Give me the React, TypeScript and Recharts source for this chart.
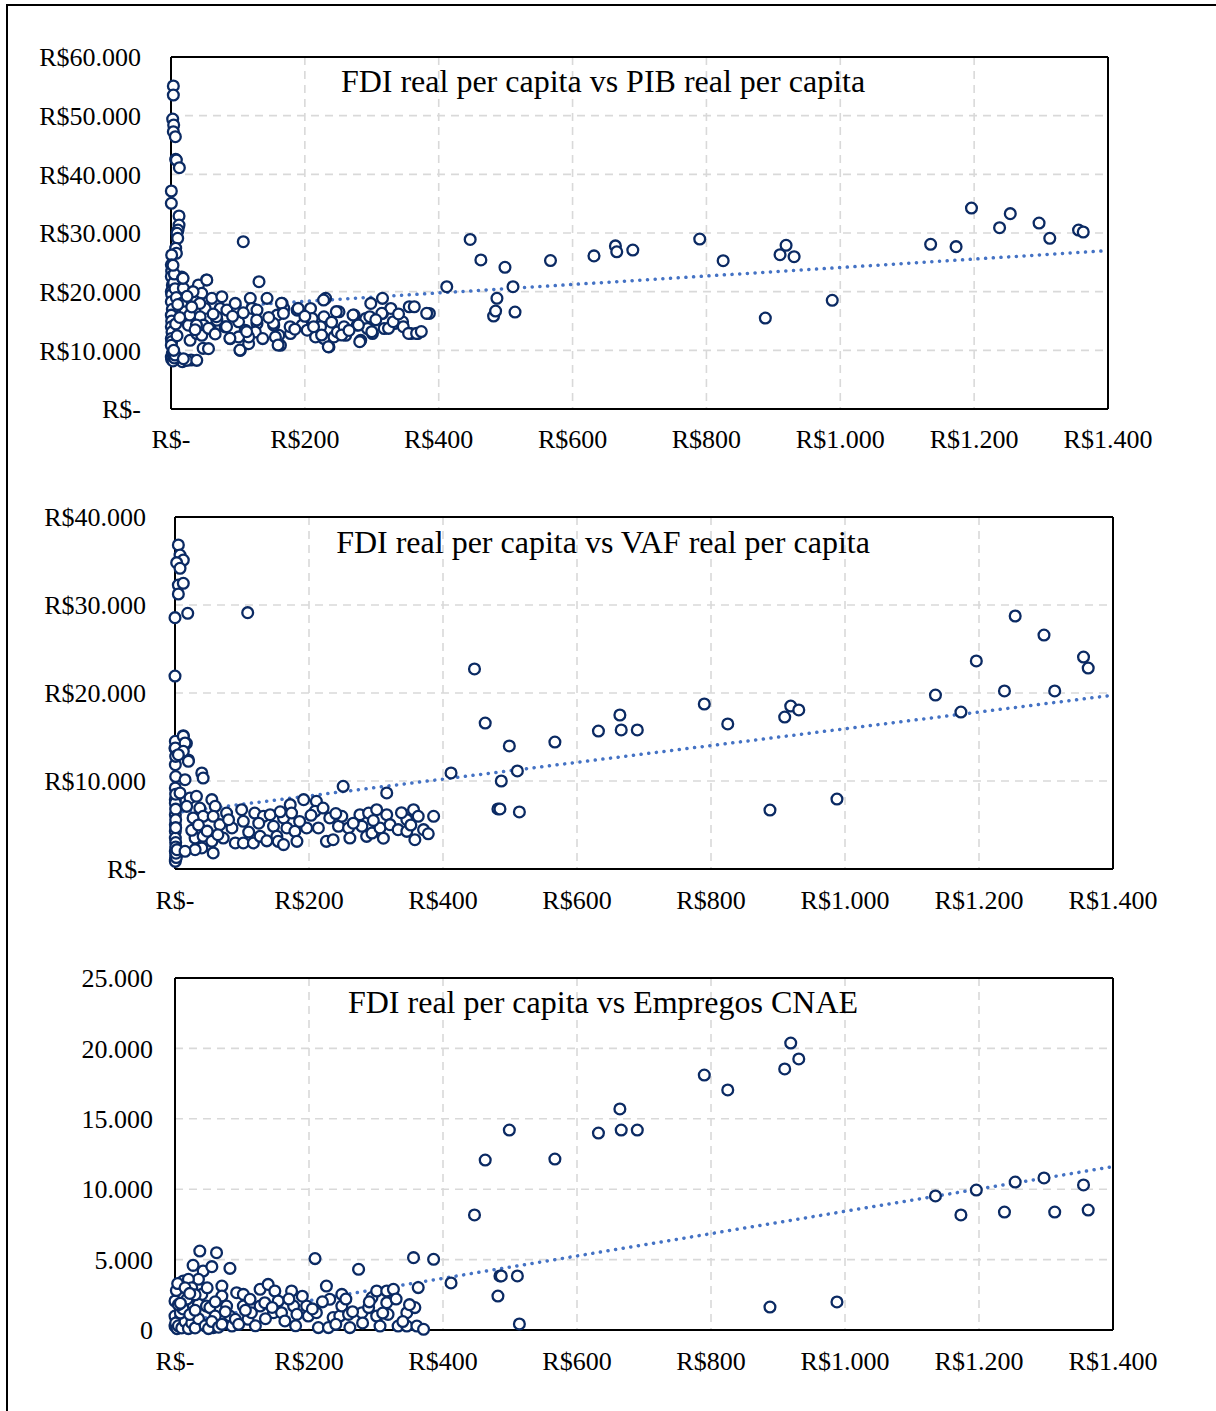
import React from 'react';
import { ScatterChart, Scatter, XAxis, YAxis, CartesianGrid, ReferenceLine } from 'recharts';

// ---------- DATA ----------
// x ticks (FDI real per capita)
const xTicks = [0, 200, 400, 600, 800, 1000, 1200, 1400];
const pibTicks = [0, 10000, 20000, 30000, 40000, 50000, 60000];
const vafTicks = [0, 10000, 20000, 30000, 40000];
const empTicks = [0, 5000, 10000, 15000, 20000, 25000];

const titles = [
  'FDI real per capita vs PIB real per capita',
  'FDI real per capita vs VAF real per capita',
  'FDI real per capita vs Empregos CNAE',
];

// municipalities with large FDI (shared x across the three panels)
const fdi = [412, 447, 463, 482, 485, 487, 499, 511, 514, 567, 632, 664, 666, 690, 790, 825, 888, 910, 919, 931, 988, 1135, 1173, 1196, 1238, 1254, 1297, 1313, 1356, 1363];
const pib = [20850, 28900, 25400, 15850, 16700, 18870, 24150, 20850, 16530, 25300, 26100, 27800, 26800, 27100, 28970, 25280, 15500, 26300, 27900, 25960, 18530, 28070, 27670, 34260, 30900, 33300, 31700, 29100, 30500, 30170];
const vaf = [10910, 22730, 16590, 6820, 6820, 10000, 13980, 11140, 6480, 14430, 15680, 17500, 15800, 15800, 18750, 16480, 6700, 17270, 18520, 18070, 7950, 19770, 17840, 23640, 20230, 28750, 26590, 20230, 24090, 22840];
const emp = [3340, 8170, 12070, 2410, 3840, 3840, 14200, 3840, 430, 12140, 13990, 15700, 14200, 14200, 18110, 17050, 1630, 18540, 20380, 19250, 1990, 9520, 8170, 9940, 8380, 10510, 10800, 8380, 10300, 8520];

// dense cloud of small-FDI municipalities, [FDI, value]
const pibCloud: [number, number][] = [
  [3.5, 55060], [3.5, 53520], [2.5, 49430], [4, 48410], [3.5, 47270], [6.5, 46410], [7, 42560], [8, 42440], [12.5, 41130],
  [0.5, 37160], [0.5, 35060], [12, 32900], [12, 31360], [10.5, 30510], [9, 29950], [10, 29100], [7, 27400], [8, 26540], [1, 26250],
  [108, 28520], [131.5, 21700], [53, 21990], [16, 22500], [17, 8060], [30, 8350], [48, 10340],
  [0.5, 24570], [1, 23500], [0.5, 22570], [2, 21140], [0.5, 20000], [1, 19500], [0.5, 18290], [2, 17000], [0.5, 16000], [1, 15000],
  [0.5, 14000], [1.5, 13140], [0.5, 12000], [1, 11500], [0.5, 10860], [2, 9500], [0.5, 8860], [1, 8500], [3, 8200], [5, 8700],
  [6, 9200], [4, 10000], [4, 21500], [5, 23000], [3, 24500], [6, 20500], [8, 19000], [7, 14500], [9, 12500],
  [17.5, 22290], [18.5, 20570], [16, 18000], [21, 16570], [26, 14290], [28.5, 11710], [23.5, 8290], [38.5, 8290], [18.5, 8570],
  [33.5, 20000], [41, 21140], [46, 19710], [53.5, 22000], [61, 18860], [51, 17140], [43.5, 15710], [48.5, 14290], [38.5, 12860],
  [46, 12570], [56, 10290], [58.5, 13710], [76, 19140], [73.5, 17140], [83.5, 16860], [81, 14000], [88.5, 12000], [68.5, 15140],
  [101, 14860], [96, 18000], [103.5, 10000], [116, 11140], [118.5, 18860], [121, 17140], [111, 13430], [128.5, 14570], [128.5, 16860],
  [143.5, 18860], [126, 13140], [116, 12290], [101, 12290], [153.5, 14290], [158.5, 16000], [166, 18000], [168.5, 17140], [161, 12570],
  [163.5, 10860], [156, 12290], [178.5, 12860], [188.5, 16860], [196, 14290], [203.5, 13430], [208.5, 17140], [211, 15430], [216, 12290],
  [228.5, 15710], [231, 18860], [223.5, 14000], [228.5, 12000], [236, 10570], [243.5, 12290], [248.5, 13140], [251, 16570], [258.5, 14000],
  [261, 12570], [273.5, 16000], [283.5, 11710], [278.5, 14290], [291, 15430], [293.5, 13710], [301, 12860], [298.5, 18000], [316, 18860],
  [316, 16290], [318.5, 13710], [328.5, 17140], [333.5, 14570], [346, 14860], [356, 17430], [363.5, 17430], [358.5, 12860], [368.5, 12860],
  [386, 16290],
  [18, 22270], [33, 19990], [43, 18000], [28, 16020], [38, 14310], [56, 13750], [68, 15730], [83, 14030], [88, 12040], [103, 10050],
  [113, 13180], [128, 15170], [153, 14600], [160, 10910], [165, 18010], [168, 16300], [178, 14030], [190, 17150], [213, 14030], [225, 12610],
  [228, 18570], [235, 10620], [247, 16590], [255, 12610], [272, 16020], [280, 14310], [282, 11470], [297, 15730], [300, 13180], [315, 16300],
  [325, 13750], [332, 14880], [347, 14030], [355, 12890], [367, 12890], [382, 16300],
  [10, 17800], [13, 15600], [24, 19200], [31, 17400], [36, 13500], [63, 16200], [66, 12800], [92, 15800], [108, 16400], [137, 12000],
  [146, 15600], [185, 13600], [200, 15800], [240, 14800], [266, 13400], [306, 15200], [340, 16200], [374, 13200],
];

const vafCloud: [number, number][] = [
  [5, 36820], [7.5, 35680], [12.4, 35110], [2.5, 34810], [7.5, 34170], [5, 32270], [12.4, 32470], [5, 31250], [0, 28560], [19, 29060],
  [108.5, 29130], [0, 21930], [12.4, 15150], [2.5, 14280], [17, 14280], [0, 13710], [20, 12390],
  [0.5, 14510], [0.5, 13750], [0.5, 11860], [0.5, 9210], [0.5, 7880], [0.5, 7500], [0.5, 6170], [0.5, 5040], [0.5, 4280], [0.5, 3520],
  [0.5, 2010], [0.5, 1060], [0.5, 870], [1, 12800], [1, 10500], [1, 8500], [1, 6800], [1, 5600], [1, 4700], [1, 3000], [1, 2500],
  [1, 1500], [2, 1300], [1.5, 1800], [3, 2200],
  [12.4, 15080], [15, 14320], [20, 12240], [12.4, 13370], [5, 12990], [40, 10910], [42, 10340], [15, 10150], [7.5, 8640], [22.4, 8070],
  [32, 8260], [17.4, 7120], [37, 6930], [55, 7880], [60, 7120], [42, 5990], [27, 5800], [57, 5990], [30, 3520], [42, 3710],
  [55, 3140], [40, 2390], [30, 2200], [15, 2010], [57, 1820], [72, 3520], [67, 5040], [77, 6360], [85, 4660], [90, 2960],
  [99.5, 6740], [102, 5420], [102, 2960], [117, 2960], [119, 6360], [127, 3710], [132, 5990], [142, 6170], [147, 4850], [152, 3710],
  [154, 3140], [162, 2770], [162, 5800], [172, 7310], [174, 6360], [167, 4660], [179, 4280], [182, 3140], [192, 7880], [196.5, 4660],
  [211, 7690], [209, 6550], [214, 4660], [221, 6930], [226, 3140], [231, 5800], [236, 3330], [244, 4850], [249, 5990], [251, 9390],
  [259, 4660], [261, 3520], [276, 6170], [279, 4850], [286, 3710], [289, 6360], [294, 4090], [301, 6740], [306, 4660], [316, 8640],
  [316, 6170], [321, 5040], [333, 4470], [346, 5610], [346, 4280], [356, 6740], [358, 3330], [363, 5990], [371, 4470], [386, 5990],
  [25, 4400], [35, 5000], [48, 4300], [64, 3900], [80, 5600], [110, 4200], [125, 5200], [137, 3200], [157, 6500], [186, 5400],
  [203, 6100], [240, 6300], [266, 5200], [296, 5500], [311, 3500], [338, 6400], [352, 5000], [378, 4000],
];

const empCloud: [number, number][] = [
  [37, 5610], [62, 5490], [27, 4590], [42, 4190], [55, 4500], [82, 4380], [35, 3600], [12.4, 3480], [20, 3600], [70, 3120],
  [40, 2530], [12.4, 2890], [7.5, 2410], [0, 2060], [0, 990], [0, 280], [7.5, 760], [17.4, 400], [27, 280], [40, 400],
  [27, 1820], [35, 1820], [47, 1700], [52, 1590], [70, 2410], [60, 990], [57, 170], [77, 1700], [82, 990], [85, 280],
  [90, 760], [92, 2650], [102, 2530], [102, 1700], [109, 760], [112, 2180], [114, 1230], [127, 2890], [127, 1700], [134, 1940],
  [139, 3240], [149, 2770], [154, 2060], [147, 1230], [159, 1230], [164, 640], [174, 2770], [177, 1700], [182, 1110], [196.5, 1700],
  [199, 990], [209, 5070], [211, 1230], [214, 170], [226, 3120], [229, 170], [231, 2180], [236, 880], [246, 990], [249, 1700],
  [249, 2530], [259, 1110], [261, 170], [274, 4310], [279, 1230], [289, 1590], [294, 2300], [301, 2770], [301, 990], [306, 280],
  [316, 1940], [316, 2770], [318, 1110], [326, 2890], [333, 280], [346, 280], [346, 1230], [358, 1590], [356, 5140], [361, 280],
  [363, 3010], [371, 50], [386, 5020],
  [1, 500], [3, 100], [5, 300], [10, 150], [15, 600], [20, 100], [25, 500], [30, 150], [35, 800], [45, 300],
  [50, 100], [55, 600], [65, 200], [70, 400], [8, 1200], [12, 1500], [22, 1100], [30, 1400], [5, 1800], [18, 2200],
  [25, 3000], [30, 2500], [2, 2800], [60, 2000], [75, 1300], [95, 400], [105, 1400], [120, 300], [135, 800], [145, 1600],
  [170, 2200], [180, 300], [190, 2400], [205, 1500], [220, 2000], [240, 400], [255, 2200], [265, 1300], [280, 500], [290, 2000],
  [310, 1200], [330, 2200], [340, 600], [350, 1800],
  [4, 3300], [15, 3000], [22, 2600], [48, 3000], [8, 1900],
];

// dotted linear trend lines, value at FDI = 0 and FDI = 1400
const pibTrend = [16900, 27000];
const vafTrend = [6400, 19750];
const empTrend = [500, 11600];

// ---------- helpers ----------
const FONT = '"Liberation Serif", "Times New Roman", Times, serif';
const NAVY = '#0b2a63';
const TREND = '#4472C4';
const GRID = '#d9d9d9';

const thousands = (v: number) => String(v).replace(/\B(?=(\d{3})+(?!\d))/g, '.');
const money = (v: number) => (v === 0 ? 'R$-' : 'R$' + thousands(v));
const plain = (v: number) => thousands(v);

const build = (ys: number[], cloud: [number, number][]) => [
  ...cloud.map(([x, y]) => ({ x, y })),
  ...fdi.map((x, i) => ({ x, y: ys[i] })),
];

const Dot = (p: any) =>
  p.cx == null || p.cy == null ? null : (
    <circle cx={p.cx} cy={p.cy} r={5.4} fill="#ffffff" stroke={NAVY} strokeWidth={2.3} />
  );

type PanelProps = {
  top: number;
  height: number;
  plotTop: number;
  plotBottom: number;
  plotLeft: number;
  plotRight: number;
  yMax: number;
  yTicks: number[];
  yFmt: (v: number) => string;
  yTickMargin: number;
  xTickMargin: number;
  data: { x: number; y: number }[];
  trend: number[];
};

function Panel(p: PanelProps) {
  const yAxisW = 60;
  const xAxisH = 40;
  const margin = {
    top: p.plotTop - p.top,
    left: p.plotLeft - yAxisW,
    right: 1216 - p.plotRight,
    bottom: p.top + p.height - p.plotBottom - xAxisH,
  };
  const tickStyle = { fill: '#000', fontSize: 26, fontFamily: FONT };
  return (
    <div style={{ position: 'absolute', left: 0, top: p.top, width: 1216, height: p.height }}>
      <ScatterChart width={1216} height={p.height} margin={margin}>
        <CartesianGrid stroke={GRID} strokeWidth={1.6} strokeDasharray="8 6" />
        <XAxis
          type="number"
          dataKey="x"
          domain={[0, 1400]}
          ticks={xTicks}
          interval={0}
          tickFormatter={money}
          tick={tickStyle}
          tickLine={false}
          tickSize={0}
          tickMargin={p.xTickMargin}
          height={xAxisH}
          axisLine={{ stroke: '#000', strokeWidth: 2 }}
        />
        <YAxis
          type="number"
          dataKey="y"
          domain={[0, p.yMax]}
          ticks={p.yTicks}
          interval={0}
          tickFormatter={p.yFmt}
          tick={tickStyle}
          tickLine={false}
          tickSize={0}
          tickMargin={p.yTickMargin}
          width={yAxisW}
          axisLine={{ stroke: '#000', strokeWidth: 2 }}
        />
        <ReferenceLine y={p.yMax} stroke="#000" strokeWidth={2} ifOverflow="visible" />
        <ReferenceLine x={1400} stroke="#000" strokeWidth={2} ifOverflow="visible" />
        <Scatter data={p.data} shape={Dot} isAnimationActive={false} />
        <ReferenceLine
          segment={[{ x: 0, y: p.trend[0] }, { x: 1400, y: p.trend[1] }]}
          stroke={TREND}
          strokeWidth={3.5}
          strokeDasharray="0.1 7.6"
          strokeLinecap="round"
          ifOverflow="visible"
        />
      </ScatterChart>
    </div>
  );
}

const titleStyle = (top: number): React.CSSProperties => ({
  position: 'absolute',
  left: 203,
  width: 800,
  top,
  textAlign: 'center',
  fontFamily: FONT,
  fontSize: 32,
  lineHeight: '32px',
  color: '#000',
  whiteSpace: 'nowrap',
  pointerEvents: 'none',
});

export default function App() {
  return (
    <div style={{ position: 'absolute', left: 0, top: 0, width: 1216, height: 1411, background: '#fff', overflow: 'hidden' }}>
      <div
        style={{
          position: 'absolute',
          left: 6,
          top: 4,
          width: 1216,
          height: 1411,
          borderLeft: '2px solid #000',
          borderTop: '2px solid #000',
        }}
      />
      <Panel
        top={0}
        height={470}
        plotTop={57}
        plotBottom={409}
        plotLeft={171}
        plotRight={1108}
        yMax={60000}
        yTicks={pibTicks}
        yFmt={money}
        yTickMargin={30}
        xTickMargin={21}
        data={build(pib, pibCloud)}
        trend={pibTrend}
      />
      <Panel
        top={470}
        height={460}
        plotTop={517}
        plotBottom={869}
        plotLeft={175}
        plotRight={1113}
        yMax={40000}
        yTicks={vafTicks}
        yFmt={money}
        yTickMargin={29}
        xTickMargin={22}
        data={build(vaf, vafCloud)}
        trend={vafTrend}
      />
      <Panel
        top={930}
        height={481}
        plotTop={978}
        plotBottom={1330}
        plotLeft={175}
        plotRight={1113}
        yMax={25000}
        yTicks={empTicks}
        yFmt={plain}
        yTickMargin={22}
        xTickMargin={22}
        data={build(emp, empCloud)}
        trend={empTrend}
      />
      <div style={titleStyle(65)}>{titles[0]}</div>
      <div style={titleStyle(526)}>{titles[1]}</div>
      <div style={titleStyle(986)}>{titles[2]}</div>
    </div>
  );
}
